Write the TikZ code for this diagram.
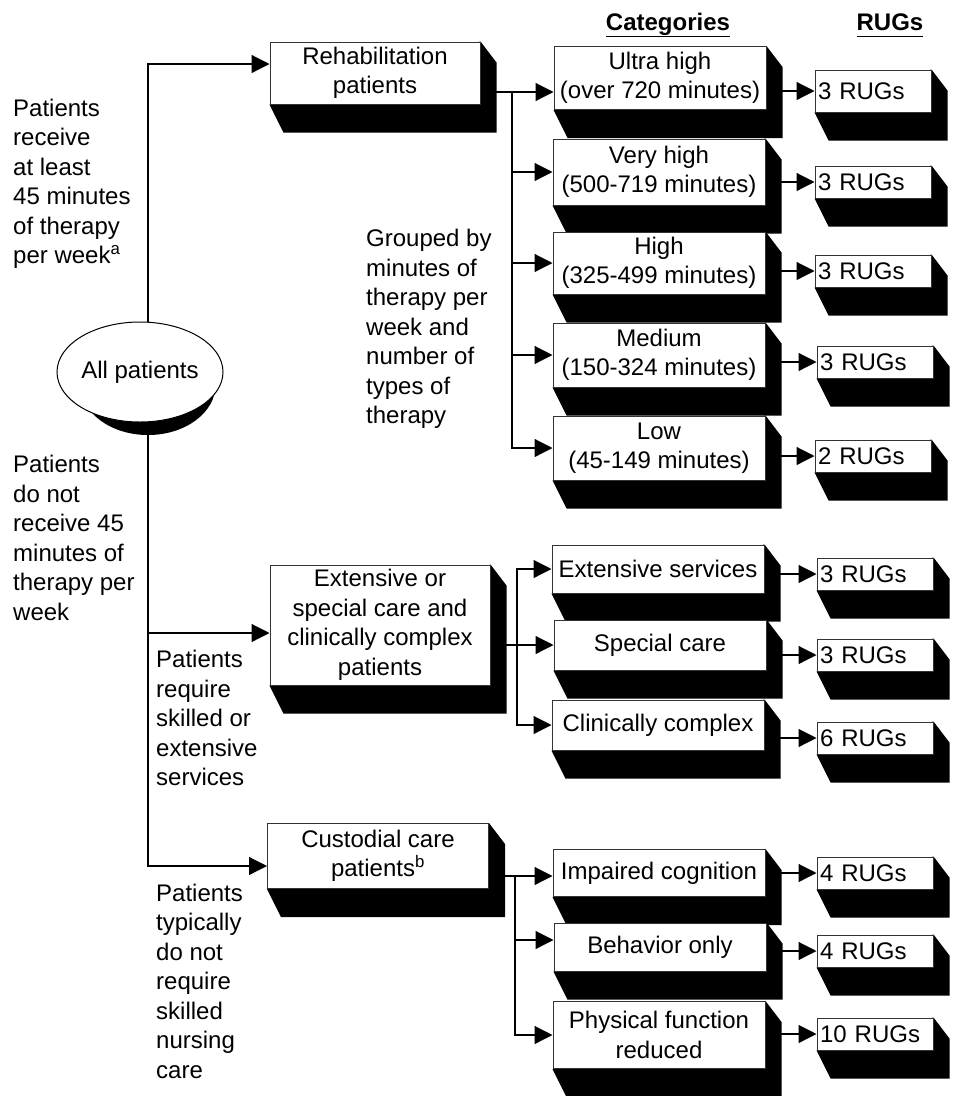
\documentclass[tikz,border=0pt]{standalone}
\usepackage{fontspec}
\setmainfont{Liberation Sans}
\usepackage{tikz}
\usetikzlibrary{positioning,shapes.geometric,arrows.meta,calc}
\pgfdeclarelayer{bg}
\pgfsetlayers{bg,main}
\newcommand\extrude[1]{%
  \fill [black] (#1.south west) -- ([shift={(14,28)}]#1.south west) -- ([shift={(16,28)}]#1.south east)
    -- ([shift={(16,21)}]#1.north east) -- (#1.north east) -- cycle;}

\begin{document}
\begin{tikzpicture}[x=1pt,y=-1pt,font=\fontsize{24}{29.5}\selectfont,
  flow/.style={draw,line width=1.2pt,-{Triangle[length=18pt,width=18pt]}},
  patbox/.style={draw=black!80,line width=1pt,fill=white,align=center,inner sep=1pt},
  catbox/.style={patbox,minimum width=212pt,minimum height=64pt},
  rugbox/.style={patbox,minimum width=116pt,minimum height=32pt,text width=110pt,align=left,inner xsep=3pt},
  sidetext/.style={anchor=west,align=left,inner sep=0pt}]
  \useasboundingbox (0,0) rectangle (956,1096);

  \node [anchor=base] (cathead) at (668,30) {\textbf{\underline{Categories}}};
  \node [anchor=base] (rughead) at (890,30) {\textbf{\underline{RUGs\vphantom{g}}}};

  \node [ellipse,draw,line width=1pt,fill=white,minimum width=135pt,minimum height=100pt,inner sep=0pt] (allp) at (140,372) {All patients};
  \coordinate (sp) at (148,372);

  \node [sidetext] (recv) at (13,184) {Patients\\receive\\at least\\45 minutes\\of therapy\\per week\textsuperscript{a}};
  \node [sidetext] (norecv) at (13,538) {Patients\\do not\\receive 45\\minutes of\\therapy per\\week};
  \node [sidetext] (skilled) at (156,718) {Patients\\require\\skilled or\\extensive\\services};
  \node [sidetext] (custtxt) at (156,981) {Patients\\typically\\do not\\require\\skilled\\nursing\\care};
  \node [sidetext] (grouped) at (366,329) {Grouped by\\minutes of\\therapy per\\week and\\number of\\types of\\therapy};

  \node [patbox,minimum width=210pt,minimum height=62pt] (rehab) at (375,73) {Rehabilitation\\patients};
  \node [patbox,minimum width=220pt,minimum height=120pt] (ext) at (380,625) {Extensive or\\special care and\\clinically complex\\patients};
  \node [patbox,minimum width=221pt,minimum height=65pt] (cust) at (378,856) {Custodial care\\patients\textsuperscript{b}};

  \node [catbox,minimum height=63pt] (ultra) at (660,78) {Ultra high\\(over 720 minutes)};
  \node [catbox,minimum height=66pt] (vhigh) at (659,172) {Very high\\(500-719 minutes)};
  \node [catbox,minimum height=62pt] (high) at (659,263) {High\\(325-499 minutes)};
  \node [catbox] (medium) at (659,355) {Medium\\(150-324 minutes)};
  \node [catbox] (low) at (659,448) {Low\\(45-149 minutes)};
  \node [catbox,minimum height=48pt] (extsv) at (658,569) {Extensive services};
  \node [catbox,minimum height=50pt] (spcare) at (660,645) {Special care};
  \node [catbox,minimum height=50pt] (clin) at (658,725) {Clinically complex};
  \node [catbox,minimum height=47pt] (impair) at (659,873) {Impaired cognition};
  \node [catbox,minimum height=48pt] (behav) at (660,947) {Behavior only};
  \node [catbox,minimum height=67pt] (phys) at (659,1035) {Physical function\\reduced};

  \node [rugbox,minimum height=42pt] (r1) at (873,91) {3 RUGs};
  \node [rugbox] (r2) at (873,182) {3 RUGs};
  \node [rugbox] (r3) at (873,271) {3 RUGs};
  \node [rugbox] (r4) at (875,362) {3 RUGs};
  \node [rugbox] (r5) at (873,456) {2 RUGs};
  \node [rugbox] (r6) at (875,574) {3 RUGs};
  \node [rugbox] (r7) at (875,655) {3 RUGs};
  \node [rugbox] (r8) at (875,738) {6 RUGs};
  \node [rugbox] (r9) at (875,873) {4 RUGs};
  \node [rugbox] (r10) at (875,951) {4 RUGs};
  \node [rugbox] (r11) at (875,1034) {10 RUGs};

  \begin{pgfonlayer}{bg}
    \draw [flow] (sp) |- ([yshift=9pt]rehab.west);
    \draw [flow] (sp) |- ([yshift=-8pt]ext.west);
    \draw [flow] (sp) |- ([yshift=-10pt]cust.west);
    \fill [black] ([shift={(8,13)}]allp.center) ellipse [x radius=67.5, y radius=50];
    \extrude{rehab} \extrude{ext} \extrude{cust}
    \extrude{ultra} \extrude{vhigh} \extrude{high} \extrude{medium} \extrude{low}
    \extrude{extsv} \extrude{spcare} \extrude{clin}
    \extrude{impair} \extrude{behav} \extrude{phys}
    \extrude{r1} \extrude{r2} \extrude{r3} \extrude{r4} \extrude{r5} \extrude{r6}
    \extrude{r7} \extrude{r8} \extrude{r9} \extrude{r10} \extrude{r11}
  \end{pgfonlayer}

  \coordinate (rj) at (512,92);
  \draw [line width=1.2pt] (rehab.east |- rj) -- (rj);
  \draw [flow] (rj) -- (rj -| ultra.west);
  \draw [flow] (rj) |- (vhigh);
  \draw [flow] (rj) |- (high);
  \draw [flow] (rj) |- (medium);
  \draw [flow] (rj) |- (low);

  \coordinate (ej) at (517,645);
  \draw [line width=1.2pt] (ext.east |- ej) -- (ej);
  \draw [flow] (ej) |- (extsv);
  \draw [flow] (ej) -- (spcare);
  \draw [flow] (ej) |- (clin);

  \coordinate (cj) at (515,876);
  \draw [line width=1.2pt] (cust.east |- cj) -- (cj);
  \draw [flow] (cj) -- (cj -| impair.west);
  \draw [flow] (cj) |- ([yshift=7pt]behav.west);
  \draw [flow] (cj) |- (phys);

  \draw [flow] (ultra.east |- r1) -- (r1);
  \draw [flow] (vhigh.east |- r2) -- (r2);
  \draw [flow] (high.east |- r3) -- (r3);
  \draw [flow] (medium.east |- r4) -- (r4);
  \draw [flow] (low.east |- r5) -- (r5);
  \draw [flow] (extsv.east |- r6) -- (r6);
  \draw [flow] (spcare.east |- r7) -- (r7);
  \draw [flow] (clin.east |- r8) -- (r8);
  \draw [flow] (impair.east |- r9) -- (r9);
  \draw [flow] (behav.east |- r10) -- (r10);
  \draw [flow] (phys.east |- r11) -- (r11);
\end{tikzpicture}
\end{document}
